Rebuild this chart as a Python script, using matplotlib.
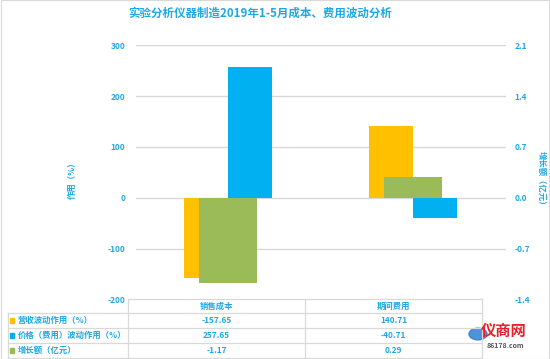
import matplotlib
matplotlib.use("Agg")
import matplotlib.pyplot as plt
from matplotlib.lines import Line2D
from matplotlib.patches import Rectangle, Circle
import numpy as np

plt.rcParams['font.family'] = ['Noto Sans CJK SC', 'DejaVu Sans']

title = "实验分析仪器制造2019年1-5月成本、费用波动分析"
categories = ["销售成本", "期间费用"]
series_names = ["营收波动作用（%）", "价格（费用）波动作用（%）", "增长额（亿元）"]
revenue_effect = [-157.65, 140.71]
price_effect = [257.65, -40.71]
growth = [-1.17, 0.29]
left_ticks = [-200, -100, 0, 100, 200, 300]
right_ticks = [-1.4, -0.7, 0.0, 0.7, 1.4, 2.1]
left_label = "作用（%）"
right_label = "增长额（亿元）"

C_OR = "#FFC000"
C_BL = "#00B0F0"
C_GR = "#9BBB59"
TXT = "#1FA8E4"
GRID = "#D9D9D9"

W, H = 550, 359
fig = plt.figure(figsize=(W / 100, H / 100), dpi=100)

def fx(x):
    return x / W

def fy(y):
    return 1 - y / H

ax = fig.add_axes([fx(135.5), fy(299.3), fx(506) - fx(135.5), fy(45.3) - fy(299.3)])
ax2 = ax.twinx()

x = np.arange(len(categories))
bw = 0.237
off = 0.1186
ax.bar(x - off, revenue_effect, width=bw, color=C_OR, zorder=2)
ax.bar(x + off, price_effect, width=bw, color=C_BL, zorder=2)
ax2.bar(x, growth, width=0.313, color=C_GR, zorder=2)

ax.set_xlim(-0.5, 1.5)
ax.set_ylim(-200, 300)
ax2.set_ylim(-1.4, 2.1)
ax.set_yticks(left_ticks)
ax.set_yticklabels([str(t) for t in left_ticks])
ax2.set_yticks(right_ticks)
ax2.set_yticklabels([f"{t:.1f}" for t in right_ticks])
ax.set_xticks([])
for a in (ax, ax2):
    for s in a.spines.values():
        s.set_visible(False)
    a.tick_params(axis='y', length=0, labelsize=6, labelcolor=TXT)
ax.tick_params(axis='y', pad=7.5)
ax2.tick_params(axis='y', pad=6)
for lab in ax.get_yticklabels() + ax2.get_yticklabels():
    lab.set_fontweight('bold')
for t in left_ticks[1:]:
    ax.axhline(t, color=GRID, lw=1, zorder=0)

fig.text(fx(260), fy(13), title, ha='center', va='center', fontsize=8.3,
         color=TXT, fontweight='bold')
fig.text(fx(72), fy(178), left_label, ha='center', va='center', rotation=90,
         fontsize=6, color=TXT, fontweight='bold')
fig.text(fx(541), fy(180), right_label, ha='center', va='center', rotation=270,
         fontsize=6, color=TXT, fontweight='bold')

# data table
TL = "#D9D9D9"
def hline(y, x0, x1):
    fig.add_artist(Line2D([fx(x0), fx(x1)], [fy(y), fy(y)], color=TL, lw=0.9))
def vline(x0, y0, y1):
    fig.add_artist(Line2D([fx(x0), fx(x0)], [fy(y0), fy(y1)], color=TL, lw=0.9))

col_x = [128, 305, 482]
rows_y = [313, 328, 343, 358]
hline(299.3, col_x[0], col_x[2])
for ry in rows_y:
    hline(ry, 8, col_x[2])
vline(8, 313, 358)
for cx in col_x:
    vline(cx, 299.3, 358)

col_centers = [(col_x[0] + col_x[1]) / 2, (col_x[1] + col_x[2]) / 2]
for cc, cat in zip(col_centers, categories):
    fig.text(fx(cc), fy(306), cat, ha='center', va='center', fontsize=6,
             color=TXT, fontweight='bold')

row_vals = [revenue_effect, price_effect, growth]
row_cols = [C_OR, C_BL, C_GR]
for i, (name, vals, col) in enumerate(zip(series_names, row_vals, row_cols)):
    cy = (rows_y[i] + rows_y[i + 1]) / 2
    fig.add_artist(Rectangle((fx(10), fy(cy + 2.2)), fx(4.4), fy(0) - fy(4.4),
                             color=col, transform=fig.transFigure))
    fig.text(fx(18), fy(cy), name, ha='left', va='center', fontsize=6,
             color=TXT, fontweight='bold')
    for cc, v in zip(col_centers, vals):
        fig.text(fx(cc), fy(cy), f"{v:.2f}", ha='center', va='center',
                 fontsize=6, color=TXT, fontweight='bold')

# watermark
fig.add_artist(Circle((fx(478), fy(334)), fx(9), color="#2F7FD0",
                      transform=fig.transFigure, alpha=0.85))
fig.text(fx(504), fy(331), "仪商网", ha='center', va='center', fontsize=11,
         color="#E8212B", fontweight='bold')
fig.text(fx(505), fy(345), "86178.com", ha='center', va='center', fontsize=5,
         color="#555555", style='italic', fontweight='bold')

# border
fig.add_artist(Rectangle((0.001, 0.001), 0.998, 0.998, fill=False,
                         edgecolor="#D9D9D9", lw=0.8, transform=fig.transFigure))

fig.savefig("out.png", dpi=100)
